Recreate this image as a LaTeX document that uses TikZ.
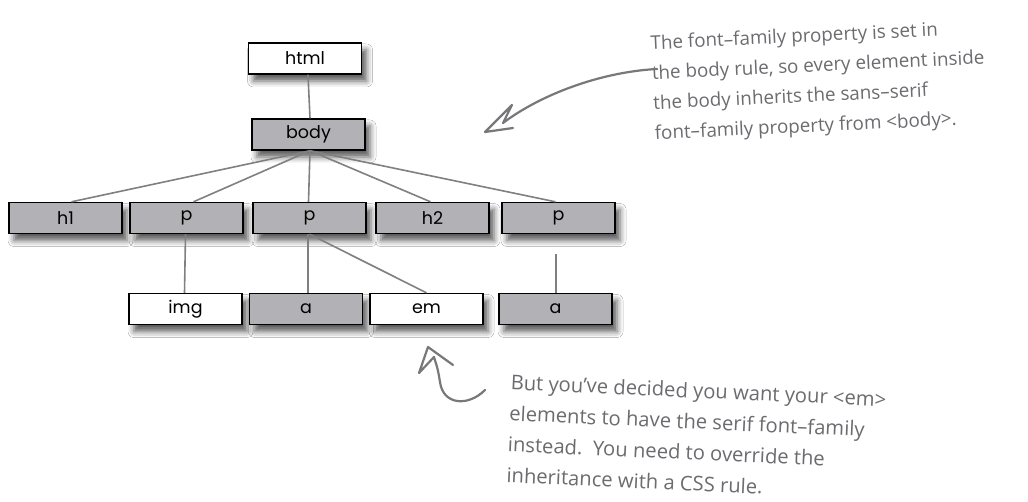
\documentclass[tikz,border=0pt]{standalone}
\usepackage{fontspec}
\newfontfamily\boxfont{Poppins}
\newfontfamily\handfont{Open Sans}
\usetikzlibrary{shadows.blur}
\definecolor{boxgray}{RGB}{178,178,182}
\definecolor{linegray}{RGB}{128,128,128}
\definecolor{handgray}{RGB}{108,108,112}
\definecolor{arrowgray}{RGB}{120,120,122}
\tikzset{
  elem/.style={draw=black, line width=1.4pt, minimum width=113pt, minimum height=31pt,
    inner sep=0pt, font=\boxfont\fontsize{17.5}{18}\selectfont, text=black,
    blur shadow={shadow xshift=5pt, shadow yshift=-7pt, shadow blur radius=6pt, shadow opacity=65}},
  graybox/.style={elem, fill=boxgray},
  whitebox/.style={elem, fill=white},
  link/.style={draw=linegray, line width=1.6pt},
  note/.style={text=handgray, anchor=north west, inner sep=0pt, align=left},
  topnote/.style={note, rotate=2.7, font=\handfont\fontsize{18.8}{30}\selectfont},
  botnote/.style={note, rotate=-2.6, font=\handfont\fontsize{20.2}{31}\selectfont},
  pen/.style={draw=arrowgray, line width=2.2pt, line cap=round, line join=round}
}
\begin{document}
\begin{tikzpicture}[x=1pt, y=-1pt]
\useasboundingbox[fill=white] (0,0) rectangle (1028,502);
% tree
\node[whitebox] (html) at (305,58.5) {html};
\node[graybox] (body) at (308.5,134.5) {body};
\node[graybox] (h1) at (65.5,218) {h1};
\node[graybox] (p1) at (186.5,218) {p};
\node[graybox] (p2) at (309.5,218) {p};
\node[graybox] (h2) at (432.5,218) {h2};
\node[graybox] (p3) at (558.5,218) {p};
\node[whitebox] (img) at (185.5,309) {img};
\node[graybox] (a1) at (306,309) {a};
\node[whitebox] (em) at (426.5,309) {em};
\node[graybox] (a2) at (555.5,309) {a};
% connectors
\draw[link] ([xshift=3pt]html.south) -- ([xshift=1.5pt]body.north);
\draw[link] ([xshift=1.5pt]body.south) -- ([xshift=6pt]h1.north);
\draw[link] ([xshift=1.5pt]body.south) -- ([xshift=7pt]p1.north);
\draw[link] ([xshift=1.5pt]body.south) -- ([xshift=-1pt]p2.north);
\draw[link] ([xshift=1.5pt]body.south) -- ([xshift=-2pt]h2.north);
\draw[link] ([xshift=1.5pt]body.south) -- ([xshift=-3pt]p3.north);
\draw[link] ([xshift=-1pt]p1.south) -- ([xshift=-1pt]img.north);
\draw[link] ([xshift=-1.5pt]p2.south) -- ([xshift=2pt]a1.north);
\draw[link] (p2.south) -- (em.north);
\draw[link] ([xshift=-2.5pt,yshift=-20pt]p3.south) -- ([xshift=0.5pt]a2.north);
% top annotation
\node[topnote] (tnote) at (650,35) {The font–family property is set in\\
the body rule, so every element inside\\
the body inherits the sans–serif\\
font–family property from <body>.};
\coordinate (ta) at (485,132);
\draw[pen] (657,69) .. controls (600,72) and (540,95) .. (503,123) -- (512,105) -- (ta) -- (513,128);
% bottom annotation
\node[botnote] (bnote) at (511,374) {But you’ve decided you want your <em>\\
elements to have the serif font–family\\
instead.\ \ You need to override the\\
inheritance with a CSS rule.};
\coordinate (ba) at (428,347);
\draw[pen] (485,390) .. controls (468,407) and (443,405) .. (440,382) .. controls (438,370) .. (434,357) -- (419,373) -- (ba) -- (453,365);
\end{tikzpicture}
\end{document}
